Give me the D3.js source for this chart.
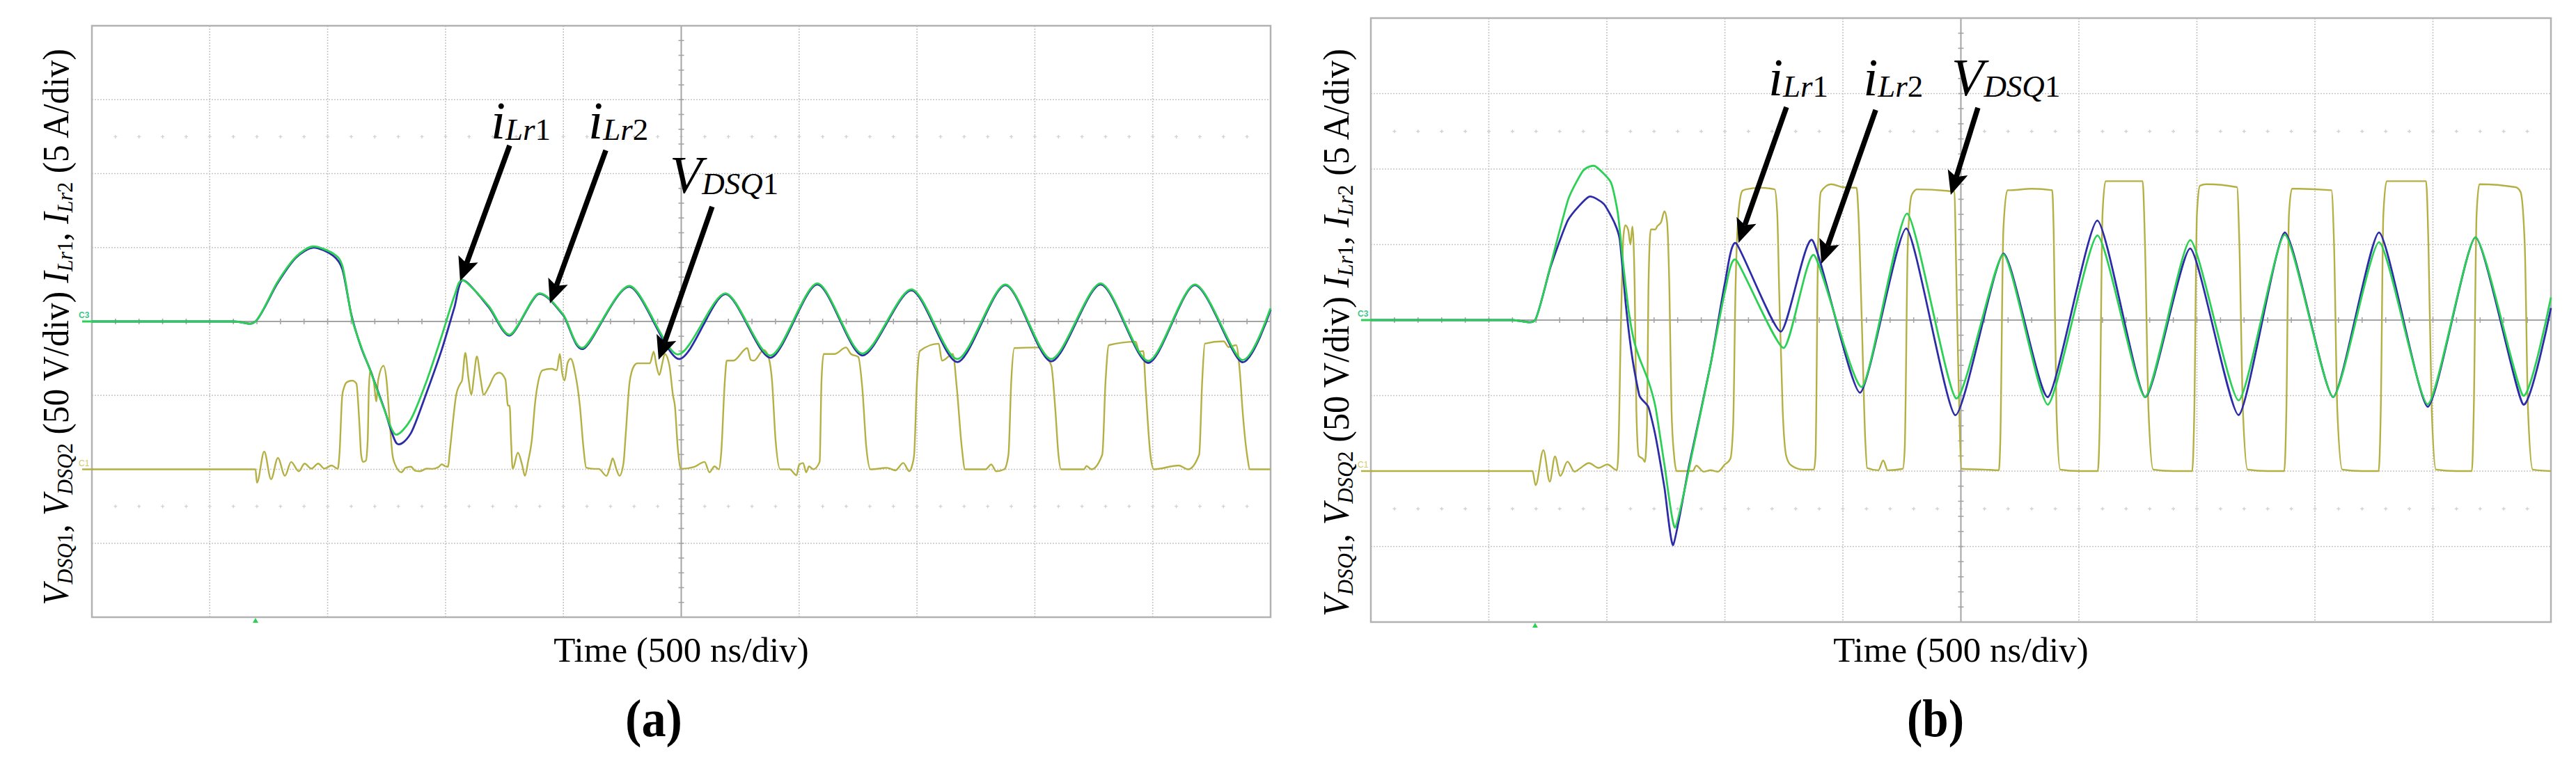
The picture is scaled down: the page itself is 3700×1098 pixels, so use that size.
<!DOCTYPE html>
<html><head><meta charset="utf-8">
<script src="https://cdn.jsdelivr.net/npm/d3@7"></script>
<style>html,body{margin:0;padding:0;background:#fff;} svg{display:block} text{white-space:pre}</style>
</head><body>
<svg id="c" width="3700" height="1098"></svg>
<script>
// ---------- tick / grid values ----------
const timeGrid = [0,500,1000,1500,2000,2500,3000,3500,4000,4500,5000];   // ns (500 ns/div)
const currentGrid = [-20,-15,-10,-5,0,5,10,15,20];                       // A (5 A/div)
const subDotRows = [12.5,-12.5];                                         // A

// ---------- panel (a) data : [time ns, value] ----------
const aIlr1 = [[0,0],[300,0],[600,0],[694,0],[786,2.55],[865,4.3],[940,5.0],[1023,4.45],[1063,3.5],[1100,0.5],[1142,-1.76],[1181,-3.3],[1240,-5.9],[1293,-8.25],[1353,-7.56],[1418,-4.89],[1484,-1.91],[1537,0.91],[1574,2.79],[1682,1.0],[1774,-0.95],[1893,1.85],[1998,0.45],[2086,-1.84],[2281,2.35],[2490,-2.54],[2687,1.85],[2880,-2.45],[3077,2.5],[3268,-2.3],[3477,2.1],[3672,-2.75],[3875,2.45],[4070,-2.7],[4279,2.5],[4481,-2.8],[4679,2.45],[4878,-2.75],[5000,0.8]];
const aIlr2 = [[0,0],[300,0],[600,0],[694,0],[786,2.63],[865,4.36],[937,5.07],[1023,4.6],[1063,3.73],[1102,0.28],[1142,-1.7],[1181,-3.33],[1234,-5.68],[1287,-7.64],[1353,-6.62],[1418,-4.11],[1484,-0.97],[1537,1.69],[1574,2.79],[1682,1.07],[1774,-0.89],[1893,1.88],[1998,0.5],[2086,-1.76],[2281,2.4],[2485,-2.23],[2687,1.9],[2880,-2.3],[3077,2.57],[3268,-2.17],[3477,2.17],[3672,-2.54],[3875,2.5],[4070,-2.54],[4279,2.57],[4481,-2.67],[4679,2.5],[4878,-2.6],[5000,0.92]];
const aVds = [[0,0],[694,0],[700,-9.1],[731,12],[760,-6.7],[789,7.7],[819,-4.4],[845,5],[878,-1.3],[902,3.9],[931,0.5],[960,3.9],[986,0.5],[1017,2.6],[1043,0.3],[1050,10],[1062,50],[1069,55],[1082,59],[1105,60],[1122,58],[1135,30],[1142,10],[1150,5],[1162,5.8],[1170,20],[1175,55],[1181,67],[1195,60],[1207,46],[1214,60],[1237,70],[1250,60],[1262,35],[1275,10],[1287,3],[1313,-2],[1330,1],[1353,1.8],[1372,-1],[1392,-1.3],[1420,0.5],[1445,0.3],[1470,1.5],[1484,3.4],[1500,2],[1511,1.8],[1517,10],[1530,30],[1545,50],[1563,58],[1570,60],[1584,78.7],[1597,62],[1610,50.5],[1620,62],[1633,76.4],[1648,62],[1662,50.5],[1682,55.2],[1710,64],[1728,65.4],[1754,60.8],[1765,43],[1772,43.1],[1778,20],[1785,0.3],[1807,11.3],[1825,3],[1837,-4.4],[1850,5],[1866,19.6],[1880,45],[1893,59],[1912,67],[1950,68],[1972,67],[1985,78],[1995,65],[2005,60],[2018,72],[2031,74.8],[2050,65],[2070,43],[2085,15],[2097,1.1],[2130,0.3],[2150,0.3],[2183,-4.4],[2200,3],[2209,7.4],[2225,0],[2238,-4.4],[2255,4.2],[2265,25],[2281,59],[2300,70],[2314,71.7],[2367,71.7],[2383,79.5],[2395,70],[2407,63.8],[2420,72],[2430,78],[2450,70],[2465,50],[2473,43],[2485,15],[2499,0.3],[2554,1.6],[2599,5],[2620,-2],[2641,2],[2660,0],[2669,10],[2685,60],[2693,73.5],[2721,73.5],[2780,82],[2795,74],[2808,73.5],[2850,80.7],[2870,76],[2885,60],[2900,20],[2920,0],[2960,0],[2989,-4],[3000,3],[3017,4.3],[3030,-2],[3042,2],[3060,0],[3087,5],[3095,60],[3104,78],[3150,78],[3199,82.4],[3220,78],[3251,76],[3268,55],[3285,15],[3303,0],[3373,1],[3408,-0.7],[3442,4.3],[3467,-1.3],[3480,3],[3488,10],[3500,60],[3512,80],[3592,85],[3606,73.5],[3652,78],[3669,55],[3690,15],[3704,0],[3791,0],[3815,3.3],[3836,-1.3],[3870,0],[3888,10],[3900,60],[3913,82],[4017,82.4],[4052,75],[4070,70],[4087,40],[4100,10],[4111,0],[4209,0],[4219,2.3],[4240,0],[4286,10],[4300,60],[4314,84],[4428,86.3],[4442,79.7],[4460,80],[4470,55],[4490,10],[4505,0],[4610,2.6],[4650,0],[4697,10],[4710,60],[4721,85],[4801,86.6],[4822,82.7],[4854,84],[4870,65],[4881,40],[4900,10],[4913,0],[5000,0]];

// ---------- panel (b) data ----------
const bIlr1 = [[0,0],[300,0],[600,0],[696,0],[761,3.5],[836,6.64],[924,8.17],[987,7.69],[1032,6.45],[1055,5.3],[1081,0.92],[1108,-2.52],[1138,-5.0],[1176,-5.76],[1206,-7.67],[1244,-11.1],[1281,-14.89],[1349,-9.58],[1440,-2.9],[1500,2.44],[1548,5.08],[1737,-0.76],[1870,5.3],[2073,-4.81],[2269,6.07],[2476,-6.3],[2680,4.4],[2869,-5.1],[3078,6.6],[3280,-5.1],[3472,4.74],[3677,-6.29],[3872,5.8],[4077,-5.1],[4272,5.8],[4478,-5.74],[4680,5.48],[4882,-5.58],[5000,0.8]];
const bIlr2 = [[0,0],[300,0],[600,0],[696,0],[761,3.59],[836,7.98],[900,9.9],[949,10.2],[1017,9.12],[1047,7.02],[1070,3.59],[1093,0.53],[1115,-1.37],[1138,-2.52],[1176,-4.04],[1206,-5.76],[1244,-9.58],[1289,-13.74],[1364,-8.63],[1440,-2.9],[1500,1.87],[1548,3.97],[1749,-1.85],[1877,4.31],[2081,-4.43],[2272,7.06],[2480,-5.19],[2680,4.35],[2869,-5.6],[3078,5.6],[3280,-5.1],[3472,5.29],[3677,-5.32],[3872,5.65],[4077,-5.1],[4272,5.16],[4478,-5.58],[4680,5.48],[4882,-5.0],[5000,1.5]];
const bVds = [[0,0],[685,0],[698,-9.4],[731,13.9],[758,-7],[780,9.7],[803,-3.2],[833,6.3],[863,-0.4],[889,2.1],[924,5.3],[965,2.1],[1002,4.4],[1043,0.6],[1048,10],[1060,100],[1070,155],[1078,162.8],[1090,160],[1100,150],[1108,162],[1118,120],[1125,40],[1135,10],[1153,8],[1161,6],[1170,30],[1176,120],[1186,160],[1206,160],[1213,162],[1230,165],[1244,172],[1255,165],[1265,120],[1274,40],[1285,10],[1296,0],[1364,0],[1379,3.6],[1410,-0.4],[1440,0.6],[1470,-0.4],[1500,4.4],[1523,8],[1535,30],[1545,120],[1560,175],[1575,185.7],[1590,186.6],[1651,187.6],[1711,186.6],[1722,170],[1730,120],[1745,40],[1760,10],[1779,4],[1830,1],[1877,1],[1884,10],[1895,150],[1907,185],[1950,190],[2000,188],[2058,187.6],[2066,170],[2080,100],[2095,20],[2103,2],[2150,0.5],[2171,7],[2190,0.5],[2254,1.5],[2262,15],[2275,150],[2290,182],[2300,185],[2314,186.6],[2473,185],[2478,150],[2490,60],[2503,1.5],[2600,1],[2661,0.5],[2667,20],[2680,160],[2697,186],[2712,186],[2800,187],[2887,186],[2893,160],[2905,40],[2921,1],[3000,0],[3080,0],[3088,30],[3100,170],[3113,192],[3270,192],[3280,150],[3295,40],[3315,1],[3400,0],[3480,0],[3489,40],[3500,170],[3513,189],[3540,190],[3670,188],[3680,150],[3695,40],[3715,1],[3800,0],[3870,0],[3879,40],[3890,170],[3903,187],[4070,186],[4081,150],[4095,40],[4116,1],[4200,0],[4270,0],[4279,40],[4290,170],[4304,192],[4471,192],[4481,150],[4495,40],[4513,1],[4600,0],[4665,0],[4673,40],[4685,170],[4697,190],[4850,188],[4871,185],[4889,150],[4903,40],[4923,1],[5000,0]];

// ---------- annotations (data coordinates: time ns, current A) ----------
const aArrows = [{tail:[1772,11.9],tip:[1562,2.73]},{tail:[2180,11.58],tip:[1943,1.22]},{tail:[2631,7.76],tip:[2404,-2.59]}];
const bArrows = [{tail:[1761,14.1],tip:[1558,5.12]},{tail:[2139,13.92],tip:[1909,3.73]},{tail:[2572,14.06],tip:[2457,8.29]}];
const aLabels = [{t:1692,v:12.38,base:'i',sub:'Lr',num:'1'},{t:2106,v:12.38,base:'i',sub:'Lr',num:'2'},{t:2451,v:8.7,base:'V',sub:'DSQ',num:'1'}];
const bLabels = [{t:1684,v:14.88,base:'i',sub:'Lr',num:'1'},{t:2086,v:14.88,base:'i',sub:'Lr',num:'2'},{t:2460,v:14.88,base:'V',sub:'DSQ',num:'1'}];

const xLabel = 'Time (500 ns/div)';
const yLabelParts = [{t:'V',it:1},{t:'DSQ',it:1,sub:1},{t:'1',sub:1},{t:', '},{t:'V',it:1},{t:'DSQ',it:1,sub:1},{t:'2',sub:1},{t:' (50 V/div) '},{t:'I',it:1},{t:'Lr',it:1,sub:1},{t:'1',sub:1},{t:', '},{t:'I',it:1},{t:'Lr',it:1,sub:1},{t:'2',sub:1},{t:' (5 A/div)'}];

// ---------- layout ----------
const panels = [
  {x0:132,x1:1825,y0:37,y1:887,ilr1:aIlr1,ilr2:aIlr2,vds:aVds,arrows:aArrows,labels:aLabels,tension:0.2,
   ylab:{x:98,y:470,len:800},cap:'(a)',capX:939},
  {x0:1969,x1:3664,y0:26,y1:894,ilr1:bIlr1,ilr2:bIlr2,vds:bVds,arrows:bArrows,labels:bLabels,tension:0.45,
   ylab:{x:1937,y:478,len:816},cap:'(b)',capX:2780}
];

const C = {green:'#2bd055', blue:'#2c2ca8', olive:'#b5b044', grid:'#c6c6c6', center:'#a4a4a4', border:'#b2b2b2'};
const SERIF = "'Liberation Serif','Times New Roman',serif";
const svg = d3.select('#c');

function rich(textSel, parts, subSize, drop){
  let shift = 0;
  parts.forEach(pt => {
    const ts = textSel.append('tspan').text(pt.t);
    const target = pt.sub ? drop : 0;
    if (target !== shift) ts.attr('dy', target - shift);
    shift = target;
    if (pt.sub) ts.attr('font-size', subSize);
    ts.attr('font-style', pt.it ? 'italic' : 'normal');
  });
}

function arrow(g, x1, y1, x2, y2){
  const dx = x2-x1, dy = y2-y1, L = Math.hypot(dx,dy), ux = dx/L, uy = dy/L, nx = -uy, ny = ux;
  const hl = 34, hw = 15, notch = 7;
  g.append('line').attr('x1',x1).attr('y1',y1)
    .attr('x2',x2-ux*(hl-notch)).attr('y2',y2-uy*(hl-notch))
    .attr('stroke','#000').attr('stroke-width',7.5);
  const pts = [[x2,y2],[x2-ux*hl+nx*hw,y2-uy*hl+ny*hw],[x2-ux*(hl-notch),y2-uy*(hl-notch)],[x2-ux*hl-nx*hw,y2-uy*hl-ny*hw]];
  g.append('polygon').attr('points',pts.map(p=>p.join(',')).join(' ')).attr('fill','#000');
}

panels.forEach(p => {
  const g = svg.append('g');
  const x = d3.scaleLinear().domain([0,5000]).range([p.x0,p.x1]);
  const yI = d3.scaleLinear().domain([-20,20]).range([p.y1,p.y0]);
  const yV = d3.scaleLinear().domain([-100,300]).range([p.y1,p.y0]);

  // grid
  const gg = g.append('g');
  timeGrid.filter(t => t>0 && t<5000 && t!==2500).forEach(t => {
    gg.append('line').attr('x1',x(t)).attr('x2',x(t)).attr('y1',p.y0).attr('y2',p.y1)
      .attr('stroke',C.grid).attr('stroke-width',1.6).attr('stroke-dasharray','2 2');
  });
  currentGrid.filter(v => v>-20 && v<20 && v!==0).forEach(v => {
    gg.append('line').attr('x1',p.x0).attr('x2',p.x1).attr('y1',yI(v)).attr('y2',yI(v))
      .attr('stroke',C.grid).attr('stroke-width',1.6).attr('stroke-dasharray','2 2');
  });
  subDotRows.forEach(v => {
    d3.range(100,5000,100).forEach(t => {
      const cx = x(t), cy = yI(v);
      gg.append('path').attr('d',`M${cx-2.5},${cy}H${cx+2.5}M${cx},${cy-2.5}V${cy+2.5}`)
        .attr('stroke','#d2d2d2').attr('stroke-width',1.4);
    });
  });
  // centre crosshair with ticks
  gg.append('line').attr('x1',x(2500)).attr('x2',x(2500)).attr('y1',p.y0).attr('y2',p.y1).attr('stroke',C.center).attr('stroke-width',2);
  gg.append('line').attr('x1',p.x0).attr('x2',p.x1).attr('y1',yI(0)).attr('y2',yI(0)).attr('stroke',C.center).attr('stroke-width',2);
  d3.range(100,5000,100).forEach(t => {
    gg.append('line').attr('x1',x(t)).attr('x2',x(t)).attr('y1',yI(0)-4).attr('y2',yI(0)+4).attr('stroke',C.center).attr('stroke-width',1.6);
  });
  d3.range(-19,20,1).forEach(v => {
    gg.append('line').attr('x1',x(2500)-4).attr('x2',x(2500)+4).attr('y1',yI(v)).attr('y2',yI(v)).attr('stroke',C.center).attr('stroke-width',1.6);
  });
  gg.append('rect').attr('x',p.x0).attr('y',p.y0).attr('width',p.x1-p.x0).attr('height',p.y1-p.y0)
    .attr('fill','none').attr('stroke',C.border).attr('stroke-width',2.5);

  // traces
  const lineV = d3.line().x(d=>x(d[0])).y(d=>yV(d[1])).curve(d3.curveMonotoneX);
  const lineI = d3.line().x(d=>x(d[0])).y(d=>yI(d[1])).curve(d3.curveCardinal.tension(p.tension));
  g.append('path').attr('d',lineV(p.vds)).attr('fill','none').attr('stroke',C.olive).attr('stroke-width',2.4);
  g.append('path').attr('d',lineI(p.ilr1)).attr('fill','none').attr('stroke',C.blue).attr('stroke-width',2.8);
  g.append('path').attr('d',lineI(p.ilr2)).attr('fill','none').attr('stroke',C.green).attr('stroke-width',2.8);

  // channel markers
  g.append('line').attr('x1',p.x0-14).attr('x2',p.x0+2).attr('y1',yI(0)).attr('y2',yI(0)).attr('stroke',C.green).attr('stroke-width',3);
  g.append('text').attr('x',p.x0-19).attr('y',yI(0)-5).attr('font-family','Arial, sans-serif').attr('font-size',12).attr('font-weight','bold').attr('fill','#3cc88a').text('C3');
  g.append('line').attr('x1',p.x0-14).attr('x2',p.x0+2).attr('y1',yV(0)).attr('y2',yV(0)).attr('stroke',C.olive).attr('stroke-width',2.5);
  g.append('text').attr('x',p.x0-19).attr('y',yV(0)-5).attr('font-family','Arial, sans-serif').attr('font-size',12).attr('fill','#cfca6a').text('C1');
  // trigger marker (at the moment the traces leave zero)
  const tx = x(p.ilr2[3][0]);
  g.append('polygon').attr('points',`${tx-4},${p.y1+8} ${tx+4},${p.y1+8} ${tx},${p.y1+1}`).attr('fill',C.green);

  // arrows
  p.arrows.forEach(a => arrow(g, x(a.tail[0]), yI(a.tail[1]), x(a.tip[0]), yI(a.tip[1])));
  // labels
  p.labels.forEach(l => {
    const t = g.append('text').attr('x',x(l.t)).attr('y',yI(l.v)).attr('font-family',SERIF).attr('font-size',76).attr('fill','#000');
    rich(t, [{t:l.base,it:1},{t:l.sub,it:1,sub:1},{t:l.num,sub:1}], 45, 2);
  });

  // axis titles
  g.append('text').attr('x',x(2500)).attr('y',951).attr('text-anchor','middle').attr('font-family',SERIF)
    .attr('font-size',51).attr('fill','#000').text(xLabel);
  const yl = g.append('text').attr('text-anchor','middle').attr('font-family',SERIF).attr('font-size',52).attr('fill','#000');
  rich(yl, yLabelParts, 32, 6);
  const yw = yl.node().getComputedTextLength();
  yl.attr('transform',`translate(${p.ylab.x},${p.ylab.y}) rotate(-90) scale(${p.ylab.len/yw},1)`);

  const cap = g.append('text').attr('text-anchor','middle').attr('font-family',SERIF).attr('font-weight','bold')
    .attr('font-size',76).attr('fill','#000').text(p.cap);
  const cw = cap.node().getComputedTextLength();
  cap.attr('transform',`translate(${p.capX},1058) scale(${82/cw},1)`);
});
</script>
</body></html>
